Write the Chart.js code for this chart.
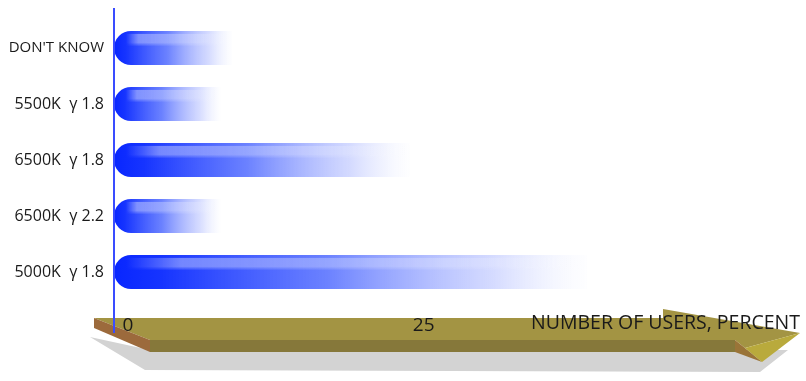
<!DOCTYPE html>
<html>
<head>
<meta charset="utf-8">
<script src="https://cdn.jsdelivr.net/npm/chart.js@4/dist/chart.umd.min.js"></script>
<style>
  html, body { margin: 0; padding: 0; background: #fff; }
  #wrap { width: 806px; height: 381px; }
</style>
</head>
<body>
<div id="wrap"><canvas id="chart"></canvas></div>
<script>
const categories   = ["DON'T KNOW", "5500K  γ 1.8", "6500K  γ 1.8", "6500K  γ 2.2", "5000K  γ 1.8"];
const percentUsers = [10, 9, 25, 9, 40];
const xTicks       = [0, 25];
const xTitle       = "NUMBER OF USERS, PERCENT";

const FONT = "'Open Sans', 'DejaVu Sans', sans-serif";

// blue bar that fades out to the right
function barFill(c) {
  const chart = c.chart;
  if (!chart.chartArea) return "#2040ff";
  const xs = chart.scales.x;
  const x0 = xs.getPixelForValue(0), x1 = xs.getPixelForValue(c.raw);
  const g = chart.ctx.createLinearGradient(x0, 0, x1, 0);
  g.addColorStop(0, "#0826ff");
  g.addColorStop(0.1, "#1634ff");
  g.addColorStop(0.45, "rgba(70,98,255,0.8)");
  g.addColorStop(0.8, "rgba(170,182,255,0.5)");
  g.addColorStop(0.93, "rgba(225,230,255,0.35)");
  g.addColorStop(1, "rgba(245,247,255,0.15)");
  return g;
}

function poly(ctx, pts, color) {
  ctx.beginPath();
  ctx.moveTo(pts[0][0], pts[0][1]);
  for (let i = 1; i < pts.length; i++) ctx.lineTo(pts[i][0], pts[i][1]);
  ctx.closePath();
  ctx.fillStyle = color;
  ctx.fill();
}

// 3d arrow under the x axis + bar gloss + vertical axis line
const arrowAxis = {
  id: "arrowAxis",
  beforeDraw(chart) {
    const { ctx, chartArea: a } = chart;
    const x0 = chart.scales.x.getPixelForValue(0);
    const R = a.right, B = a.bottom;
    ctx.save();
    poly(ctx, [[x0 - 24, B + 37], [x0 + 31, B + 70], [R - 40, B + 72], [R - 12, B + 50], [x0 + 36, B + 50]], "#d3d3d3");
    poly(ctx, [[x0 - 20, B + 18], [R - 137, B + 18], [R - 137, B + 9], [R, B + 33], [R - 55, B + 48], [R - 65, B + 40], [x0 + 36, B + 40]], "#a39443");
    poly(ctx, [[x0 + 36, B + 40], [R - 65, B + 40], [R - 65, B + 52], [x0 + 36, B + 52]], "#86783a");
    poly(ctx, [[R - 65, B + 40], [R - 55, B + 48], [R - 38, B + 62], [R - 65, B + 52]], "#9a7438");
    poly(ctx, [[R, B + 33], [R - 38, B + 62], [R - 55, B + 48]], "#b9aa3c");
    poly(ctx, [[x0 - 20, B + 18], [x0 + 36, B + 40], [x0 + 36, B + 52], [x0 - 20, B + 28]], "#9c6a3c");
    ctx.restore();
  },
  afterDatasetsDraw(chart) {
    const { ctx, chartArea: a } = chart;
    const x0 = chart.scales.x.getPixelForValue(0);
    ctx.save();
    chart.getDatasetMeta(0).data.forEach(bar => {
      const top = bar.y - bar.height / 2;
      const l = bar.base + 12, r = bar.x - 4;
      const g = ctx.createLinearGradient(l, 0, r, 0);
      g.addColorStop(0, "rgba(255,255,255,0)");
      g.addColorStop(0.12, "rgba(255,255,255,0.38)");
      g.addColorStop(0.7, "rgba(255,255,255,0.22)");
      g.addColorStop(1, "rgba(255,255,255,0)");
      ctx.fillStyle = g;
      for (let i = 0; i < 12; i++) {
        ctx.globalAlpha = i < 9 ? 1 : (12 - i) / 4;
        ctx.fillRect(l, top + 3 + i, r - l, 1);
      }
    });
    ctx.globalAlpha = 1;
    ctx.strokeStyle = "#3a4cff";
    ctx.lineWidth = 2;
    ctx.beginPath();
    ctx.moveTo(x0, a.top - 12);
    ctx.lineTo(x0, a.bottom + 33);
    ctx.stroke();
    ctx.restore();
  }
};

new Chart(document.getElementById("chart"), {
  type: "bar",
  plugins: [arrowAxis],
  data: {
    labels: categories,
    datasets: [{
      data: percentUsers,
      backgroundColor: barFill,
      borderWidth: 0,
      borderSkipped: false,
      borderRadius: { topLeft: 17, bottomLeft: 17, topRight: 0, bottomRight: 0 },
      categoryPercentage: 1,
      barPercentage: 0.61
    }]
  },
  options: {
    indexAxis: "y",
    responsive: true,
    maintainAspectRatio: false,
    animation: false,
    layout: { padding: { top: 20, right: 6, left: 0, bottom: 0 } },
    plugins: { legend: { display: false }, tooltip: { enabled: false } },
    scales: {
      x: {
        min: 0,
        max: 58,
        afterBuildTicks: s => { s.ticks = xTicks.map(v => ({ value: v })); },
        afterFit: s => { s.height = 81; },
        grid: { display: false, drawTicks: false },
        border: { display: false },
        ticks: { color: "#1a1a1a", padding: 14, labelOffset: 14, font: { family: FONT, size: 19 } },
        title: {
          display: true,
          text: xTitle,
          align: "end",
          color: "#1a1a1a",
          font: { family: FONT, size: 19.5 },
          padding: { top: 0, bottom: 46 }
        }
      },
      y: {
        afterFit: s => { s.width = 114; },
        grid: { display: false, drawTicks: false },
        border: { display: false },
        ticks: {
          color: "#1a1a1a",
          padding: 10,
          font: c => ({ family: FONT, size: c.index === 0 ? 15 : 16 })
        }
      }
    }
  }
});
</script>
</body>
</html>
